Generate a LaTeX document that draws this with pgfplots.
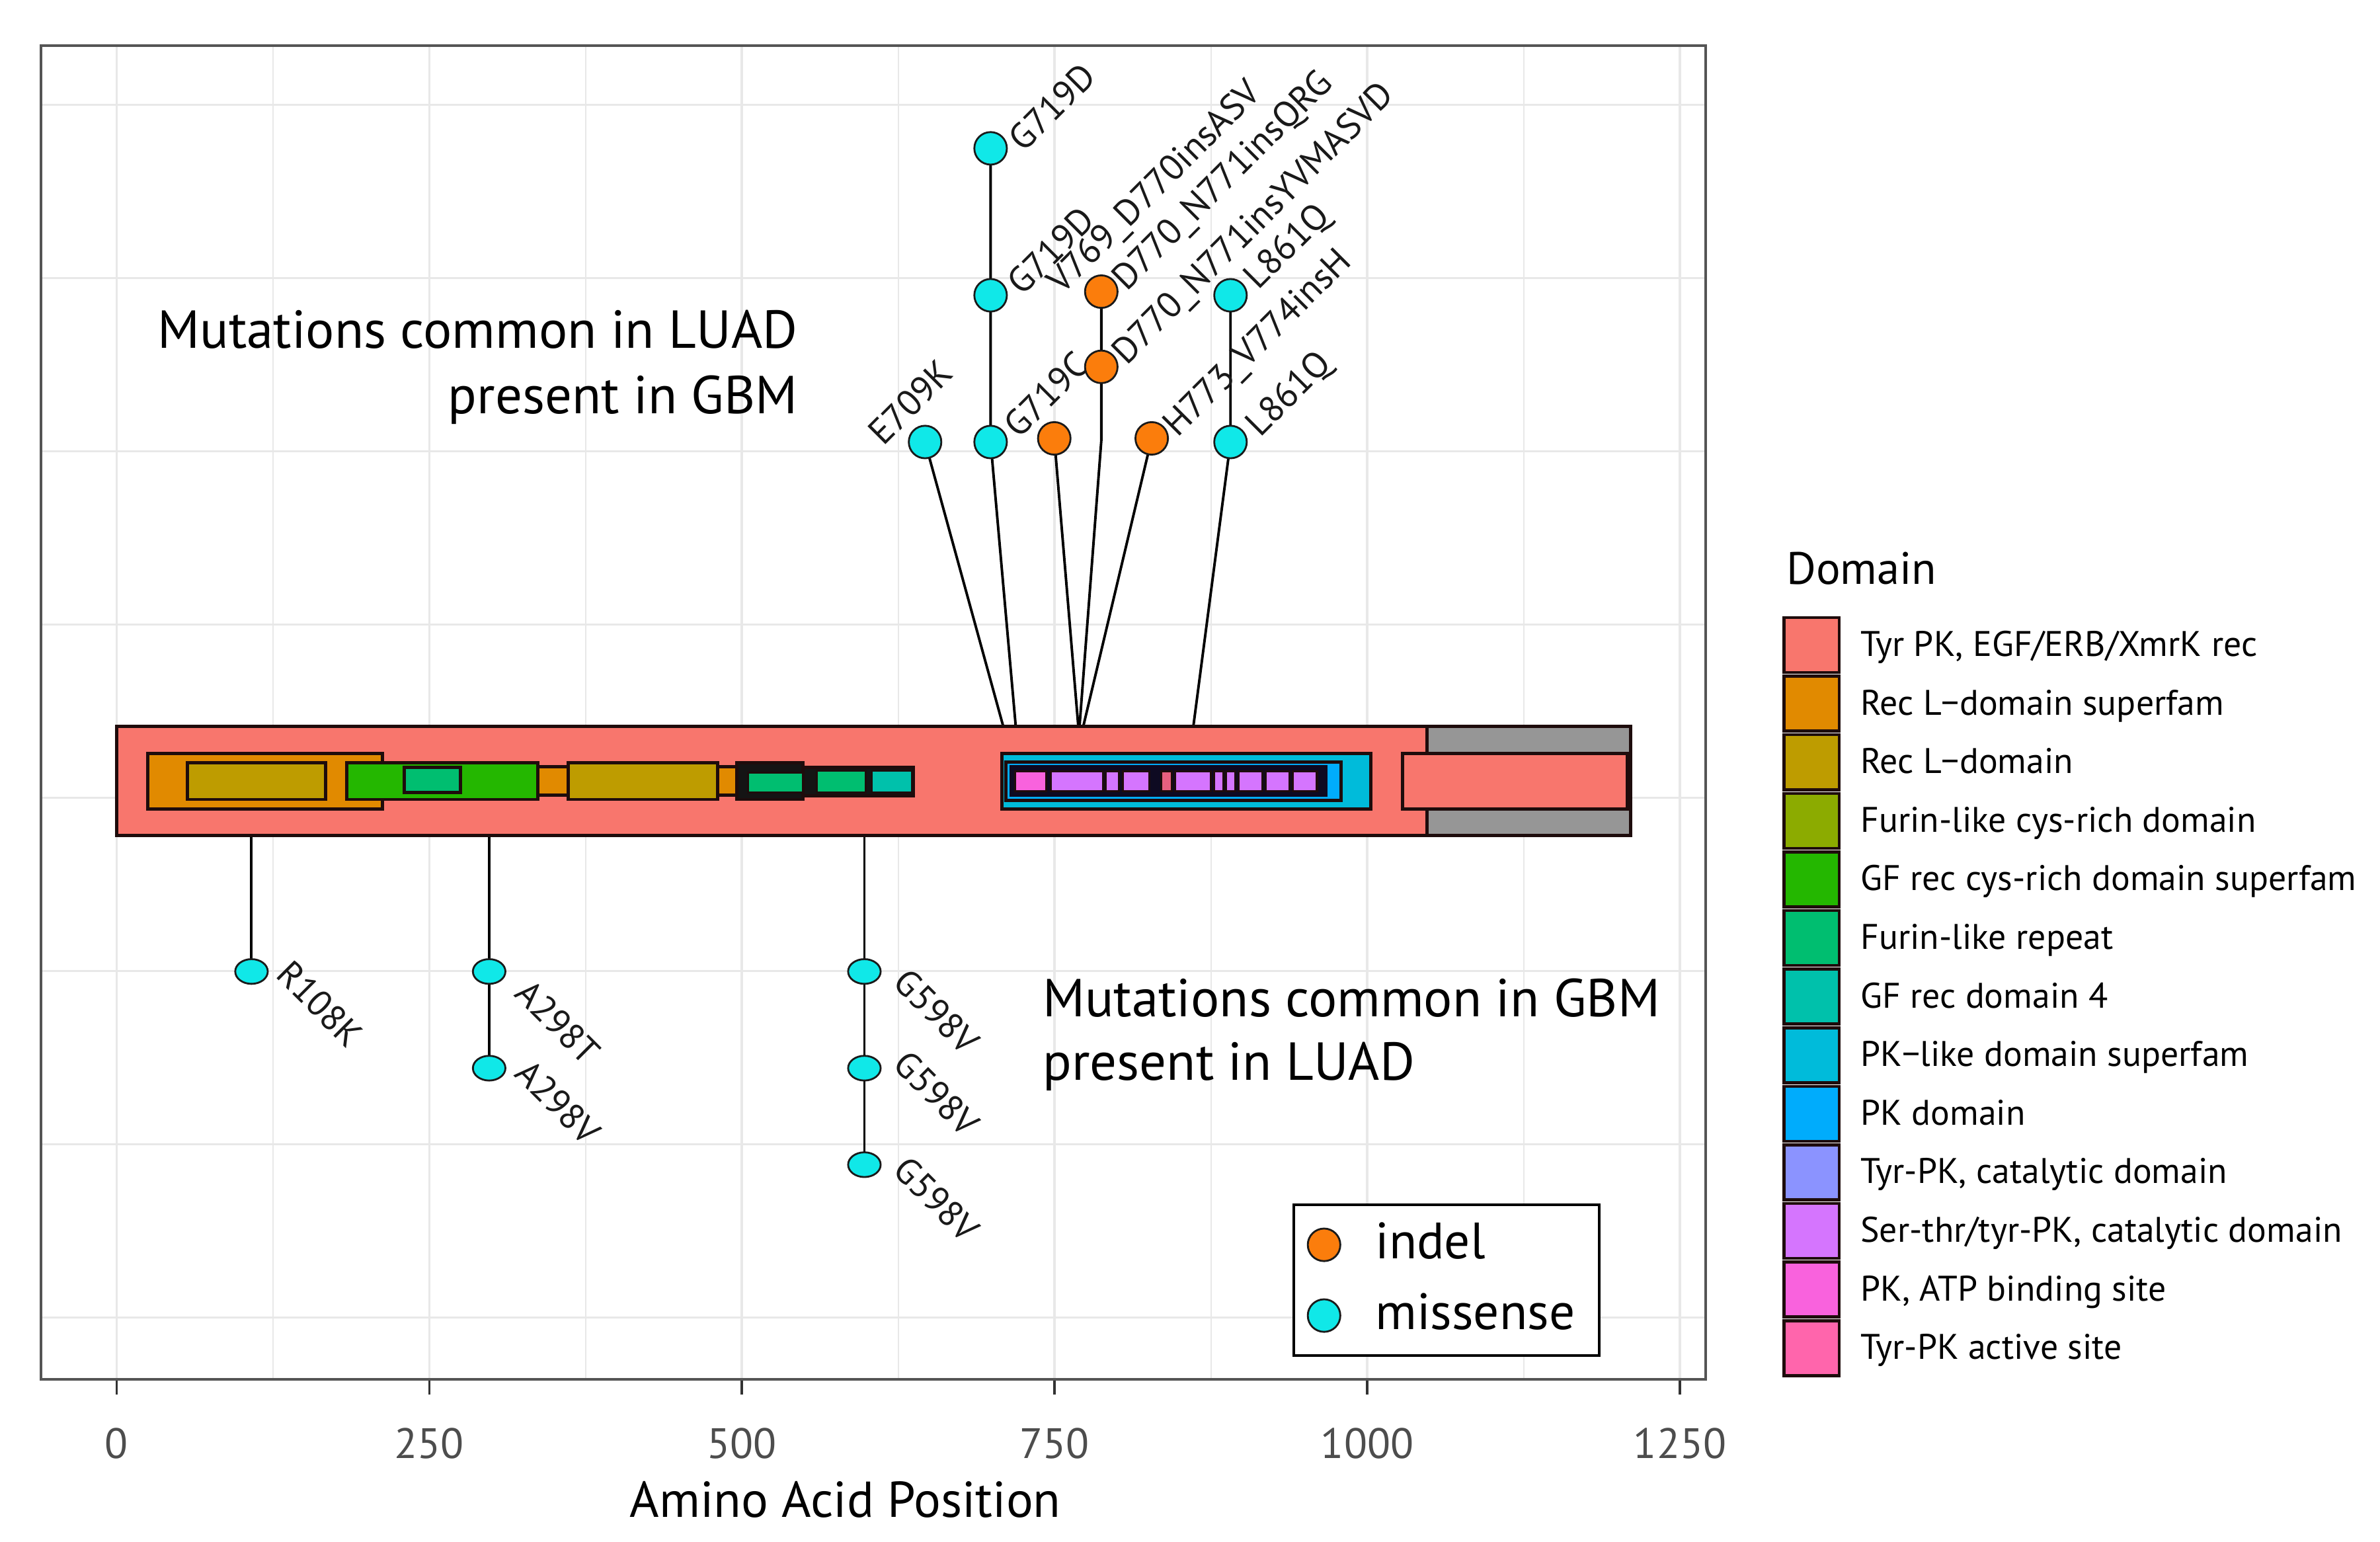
\documentclass[border=0pt]{standalone}
\usepackage{pgfplots}
\pgfplotsset{compat=1.18}
\usepackage{fontspec}
\setmainfont{PT Sans}

\definecolor{salm}{HTML}{F8766D}
\definecolor{recsup}{HTML}{E18A00}
\definecolor{recl}{HTML}{BE9C00}
\definecolor{furcys}{HTML}{8CAB00}
\definecolor{gfsup}{HTML}{24B700}
\definecolor{furrep}{HTML}{00BE70}
\definecolor{gffour}{HTML}{00C1AB}
\definecolor{pklike}{HTML}{00BBDA}
\definecolor{pkdom}{HTML}{00ACFC}
\definecolor{tyrcat}{HTML}{8B93FF}
\definecolor{serthr}{HTML}{D575FE}
\definecolor{atp}{HTML}{F962DD}
\definecolor{active}{HTML}{FF65AC}
\definecolor{activeshow}{HTML}{E8607F}
\definecolor{nagray}{HTML}{969696}
\definecolor{darkc}{HTML}{141414}
\definecolor{darknavy}{HTML}{0E0A22}
\definecolor{rectedge}{HTML}{1E0C0C}
\definecolor{gridc}{HTML}{E8E8E8}
\definecolor{framec}{HTML}{555555}
\definecolor{tickc}{HTML}{333333}
\definecolor{ticklc}{HTML}{4D4D4D}
\definecolor{indc}{HTML}{FB7D0C}
\definecolor{misc}{HTML}{10E8E8}
\definecolor{dotedge}{HTML}{1A1A1A}

\newcommand{\dom}[5]{\addplot[forget plot, fill=#5, draw=rectedge, line width=1.4pt, line join=miter] coordinates {(#1,#3) (#2,#3) (#2,#4) (#1,#4)} -- cycle;}
\newcommand{\domthin}[5]{\addplot[forget plot, fill=#5, draw=rectedge, line width=0.9pt, line join=miter] coordinates {(#1,#3) (#2,#3) (#2,#4) (#1,#4)} -- cycle;}
\newcommand{\domnb}[5]{\addplot[forget plot, fill=#5, draw=none] coordinates {(#1,#3) (#2,#3) (#2,#4) (#1,#4)} -- cycle;}

\newcommand{\mutfont}{\fontsize{15.6pt}{18pt}\selectfont}
\newcommand{\annfont}{\fontsize{23pt}{27pt}\selectfont}
\newcommand{\legfont}{\fontsize{15.3pt}{18pt}\selectfont}

\pgfplotsset{
  dotstyle/.style={only marks, mark=*, mark size=7pt, mark options={fill=#1, draw=dotedge, line width=0.8pt}},
  stem/.style={forget plot, draw=black, line width=1.1pt}
}

\begin{document}
\begin{tikzpicture}
\useasboundingbox (0,0) rectangle (360mm,233.1mm);
\begin{axis}[
  at={(6.2mm,24.5mm)}, anchor=south west,
  scale only axis, width=251.8mm, height=201.7mm,
  xmin=-60.3, xmax=1270.6, ymin=-3.357, ymax=4.341,
  xtick={0,250,...,1250}, minor xtick={125,375,...,1125},
  ytick={-3,...,4}, yticklabels={},
  grid=both,
  major grid style={draw=gridc, line width=0.9pt},
  minor grid style={draw=gridc, line width=0.6pt},
  tick pos=left, tick align=outside,
  major tick length=2.3mm, minor tick length=0pt,
  xtick style={draw=tickc, line width=0.9pt},
  ytick style={draw=none},
  axis line style={draw=framec, line width=1pt},
  /pgf/number format/assume math mode=true,
  /pgf/number format/set thousands separator={},
  xticklabel style={font=\fontsize{18.3pt}{22pt}\selectfont, text=ticklc, anchor=base, yshift=-9.6mm, inner sep=0pt},
  xlabel={Amino Acid Position},
  xlabel style={at={(axis description cs:0.4832,-0.1036)}, anchor=base, font=\fontsize{21.7pt}{25pt}\selectfont, inner sep=0pt},
  legend style={at={(0.7518,0.1319)}, anchor=north west, draw=black, line width=1.2pt, fill=white,
    inner xsep=2.1mm, inner ysep=2.5mm, row sep=3.6mm, column sep=5.3mm,
    font=\fontsize{22pt}{26pt}\selectfont,
    nodes={inner sep=0pt, text height=5.6mm, text depth=1.5mm, text width=31.8mm, align=left}},
  legend cell align=left,
  legend image code/.code={\draw[#1] plot coordinates {(2.5mm,0mm)};},
]
% ---- stems (top) ----
\addplot[stem] coordinates {(709,0.412) (646.5,2.053)};
\addplot[stem] coordinates {(719,0.412) (698.9,2.053) (698.9,3.748)};
\addplot[stem] coordinates {(769,0.412) (749.8,2.074)};
\addplot[stem] coordinates {(770,0.412) (787.4,2.06) (787.4,2.921)};
\addplot[stem] coordinates {(773,0.412) (827.7,2.074)};
\addplot[stem] coordinates {(861,0.412) (890.7,2.053) (890.7,2.900)};
% ---- stems (bottom) ----
\addplot[stem] coordinates {(108,-0.218) (108,-1.003)};
\addplot[stem] coordinates {(298,-0.218) (298,-1.561)};
\addplot[stem] coordinates {(598,-0.218) (598,-2.118)};

% ---- protein domains ----
\dom{0}{1048}{-0.218}{0.412}{salm}
\dom{1048}{1210.5}{-0.218}{0.412}{nagray}
\dom{1028}{1208}{-0.065}{0.256}{salm}
\dom{25}{212.5}{-0.065}{0.256}{recsup}
\dom{335}{498}{0.015}{0.179}{recsup}
\dom{57}{167}{-0.010}{0.202}{recl}
\dom{361}{480.5}{-0.010}{0.202}{recl}
\dom{184}{337}{-0.010}{0.202}{gfsup}
\dom{230}{275}{0.031}{0.176}{furrep}
\dom{496}{549}{-0.010}{0.202}{darkc}
\dom{549}{637}{0.011}{0.176}{darkc}
\domthin{505}{549}{0.031}{0.145}{furrep}
\domthin{560}{599}{0.031}{0.156}{furrep}
\domthin{604}{636}{0.031}{0.156}{gffour}
\dom{708}{1003}{-0.065}{0.256}{pklike}
\dom{711}{979}{-0.015}{0.206}{pkdom}
\domnb{714}{968}{0.004}{0.188}{darknavy}
\domthin{718.6}{743.5}{0.038}{0.153}{atp}
\domthin{746.9}{788.6}{0.038}{0.153}{serthr}
\domthin{791}{801.6}{0.038}{0.153}{serthr}
\domthin{804.6}{825.8}{0.038}{0.153}{serthr}
\domthin{835.3}{844}{0.038}{0.153}{activeshow}
\domthin{846.6}{875}{0.038}{0.153}{serthr}
\domthin{877.6}{884.8}{0.038}{0.153}{serthr}
\domthin{887.3}{894.4}{0.038}{0.153}{serthr}
\domthin{897}{916}{0.038}{0.153}{serthr}
\domthin{919}{937.8}{0.038}{0.153}{serthr}
\domthin{940.7}{959.8}{0.038}{0.153}{serthr}

% ---- mutation dots ----
\addplot[dotstyle=indc] coordinates {(749.8,2.074) (787.4,2.487) (787.4,2.921) (827.7,2.074)};
\addlegendentry{indel}
\addplot[dotstyle=misc] coordinates {(646.5,2.053) (698.9,2.053) (698.9,2.900) (698.9,3.748) (890.7,2.053) (890.7,2.900)};
\addlegendentry{missense}
\addplot[forget plot, only marks, mark=*, mark size=7pt, mark options={fill=misc, draw=dotedge, line width=0.8pt, yscale=0.76}] coordinates {(108,-1.003) (298,-1.003) (298,-1.561) (598,-1.003) (598,-1.561) (598,-2.118)};

% ---- mutation labels (top) ----
\begin{scope}[every node/.style={font=\mutfont, text=black!90, inner sep=0pt, anchor=base west, rotate=45}]
\node at (axis cs:725.2,3.718) {G719D};
\node at (axis cs:724.0,2.889) {G719D};
\node at (axis cs:721.5,2.065) {G719C};
\node at (axis cs:613.2,2.023) {E709K};
\node at (axis cs:755.9,2.899) {V769\_D770insASV};
\node at (axis cs:807.4,2.916) {D770\_N771insQRG};
\node at (axis cs:807.4,2.490) {D770\_N771insYVMASVD};
\node at (axis cs:848.4,2.073) {H773\_V774insH};
\node at (axis cs:912.9,2.924) {L861Q};
\node at (axis cs:914.3,2.073) {L861Q};
\end{scope}
% ---- mutation labels (bottom) ----
\begin{scope}[every node/.style={font=\mutfont, text=black!90, inner sep=0pt, anchor=base west, rotate=-45}]
\node at (axis cs:126.3,-1.030) {R108K};
\node at (axis cs:317.0,-1.141) {A298T};
\node at (axis cs:317.0,-1.603) {A298V};
\node at (axis cs:619.4,-1.074) {G598V};
\node at (axis cs:619.4,-1.548) {G598V};
\node at (axis cs:619.4,-2.160) {G598V};
\end{scope}
% ---- annotations ----
\node[anchor=base east, font=\annfont, inner sep=0pt] at (axis cs:545.0,2.593) {Mutations common in LUAD};
\node[anchor=base east, font=\annfont, inner sep=0pt] at (axis cs:545.0,2.218) {present in GBM};
\node[anchor=base west, font=\annfont, inner sep=0pt] at (axis cs:740.3,-1.262) {Mutations common in GBM};
\node[anchor=base west, font=\annfont, inner sep=0pt] at (axis cs:740.3,-1.630) {present in LUAD};
\end{axis}

% ---- Domain legend ----
\begin{scope}[shift={(0mm,233.1mm)}, x=0.1mm, y=-0.1mm]
\node[anchor=base west, inner sep=0pt, font=\fontsize{19.5pt}{23pt}\selectfont] at (2701.5,883) {Domain};
\begin{scope}[every node/.style={anchor=base west, inner sep=0pt, font=\legfont}]
\filldraw[fill=salm,   draw=rectedge, line width=1.3pt] (2698.5,934.0) rectangle ++(83.5,83);  \node at (2813.6,992.5) {Tyr PK, EGF/ERB/XmrK rec};
\filldraw[fill=recsup, draw=rectedge, line width=1.3pt] (2698.5,1022.6) rectangle ++(83.5,83); \node at (2813.6,1081.1) {Rec L−domain superfam};
\filldraw[fill=recl,   draw=rectedge, line width=1.3pt] (2698.5,1111.2) rectangle ++(83.5,83); \node at (2813.6,1169.7) {Rec L−domain};
\filldraw[fill=furcys, draw=rectedge, line width=1.3pt] (2698.5,1199.8) rectangle ++(83.5,83); \node at (2813.6,1258.3) {Furin-like cys-rich domain};
\filldraw[fill=gfsup,  draw=rectedge, line width=1.3pt] (2698.5,1288.4) rectangle ++(83.5,83); \node at (2813.6,1346.9) {GF rec cys-rich domain superfam};
\filldraw[fill=furrep, draw=rectedge, line width=1.3pt] (2698.5,1377.0) rectangle ++(83.5,83); \node at (2813.6,1435.5) {Furin-like repeat};
\filldraw[fill=gffour, draw=rectedge, line width=1.3pt] (2698.5,1465.6) rectangle ++(83.5,83); \node at (2813.6,1524.1) {GF rec domain 4};
\filldraw[fill=pklike, draw=rectedge, line width=1.3pt] (2698.5,1554.2) rectangle ++(83.5,83); \node at (2813.6,1612.7) {PK−like domain superfam};
\filldraw[fill=pkdom,  draw=rectedge, line width=1.3pt] (2698.5,1642.8) rectangle ++(83.5,83); \node at (2813.6,1701.3) {PK domain};
\filldraw[fill=tyrcat, draw=rectedge, line width=1.3pt] (2698.5,1731.4) rectangle ++(83.5,83); \node at (2813.6,1789.9) {Tyr-PK, catalytic domain};
\filldraw[fill=serthr, draw=rectedge, line width=1.3pt] (2698.5,1820.0) rectangle ++(83.5,83); \node at (2813.6,1878.5) {Ser-thr/tyr-PK, catalytic domain};
\filldraw[fill=atp,    draw=rectedge, line width=1.3pt] (2698.5,1908.6) rectangle ++(83.5,83); \node at (2813.6,1967.1) {PK, ATP binding site};
\filldraw[fill=active, draw=rectedge, line width=1.3pt] (2698.5,1997.2) rectangle ++(83.5,83); \node at (2813.6,2055.7) {Tyr-PK active site};
\end{scope}
\end{scope}
\end{tikzpicture}
\end{document}
